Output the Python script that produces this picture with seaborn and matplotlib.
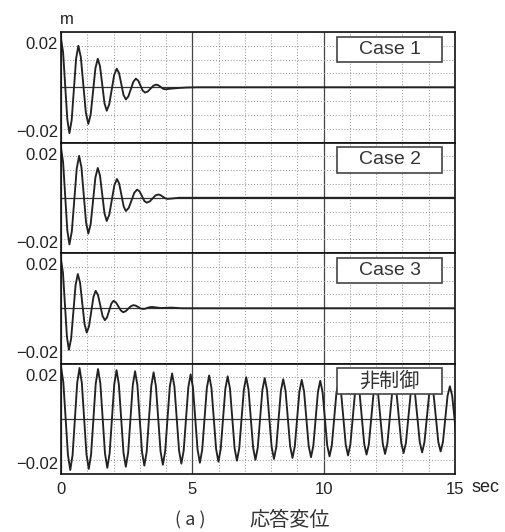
import numpy as np
import matplotlib.pyplot as plt
import seaborn as sns
from matplotlib.patches import Rectangle
from matplotlib.ticker import MultipleLocator

sns.set_theme(style='white')
plt.rcParams['font.family'] = ['Liberation Sans', 'Noto Sans CJK JP', 'DejaVu Sans']
plt.rcParams['axes.unicode_minus'] = True

# displacement readings in mm, times in sec
case1_t = [0.00, 0.08, 0.16, 0.24, 0.32, 0.405, 0.49, 0.575, 0.66, 0.755, 0.85, 0.945,
           1.04, 1.13, 1.22, 1.31, 1.40, 1.485, 1.57, 1.655, 1.74, 1.835, 1.93, 2.025,
           2.12, 2.21, 2.295, 2.38, 2.47, 2.565, 2.66, 2.755, 2.85, 2.94, 3.025, 3.11,
           3.20, 3.305, 3.41, 3.515, 3.62, 3.705, 3.79, 3.875, 3.96, 4.2, 4.5, 4.8, 5.2, 15.0]
case1_mm = [22.0, 15.7, 0.6, -14.5, -20.8, -15.0, -1.0, 13.0, 18.8, 13.6, 1.1, -11.4,
            -16.6, -12.3, -1.9, 8.6, 12.9, 9.5, 1.2, -7.2, -10.6, -7.8, -1.1, 5.6,
            8.4, 6.4, 1.5, -3.5, -5.5, -4.1, -0.8, 2.5, 3.9, 3.0, 0.8, -1.5,
            -2.4, -1.9, -0.6, 0.7, 1.2, 0.9, 0.2, -0.6, -0.9, -0.6, -0.3, -0.1, 0.0, 0.0]

case2_t = [0.00, 0.08, 0.16, 0.24, 0.32, 0.4125, 0.505, 0.5975, 0.69, 0.7775, 0.865, 0.9525,
           1.04, 1.13, 1.22, 1.31, 1.40, 1.485, 1.57, 1.655, 1.74, 1.8375, 1.935, 2.0325,
           2.13, 2.215, 2.30, 2.385, 2.47, 2.5775, 2.685, 2.7925, 2.90, 2.99, 3.08, 3.17,
           3.26, 3.37, 3.48, 3.59, 3.70, 3.7875, 3.875, 3.9625, 4.05, 4.25, 4.5, 15.0]
case2_mm = [22.5, 16.1, 0.7, -14.7, -21.1, -15.2, -1.1, 13.1, 19.0, 13.8, 1.4, -11.0,
            -16.2, -11.9, -1.4, 9.2, 13.5, 10.0, 1.5, -7.0, -10.5, -7.7, -1.0, 5.7,
            8.5, 6.4, 1.3, -3.9, -6.0, -4.6, -1.2, 2.3, 3.7, 2.9, 0.8, -1.4,
            -2.2, -1.7, -0.4, 1.0, 1.5, 1.2, 0.5, -0.2, -0.5, -0.3, 0.0, 0.0]

case3_t = [0.00, 0.075, 0.15, 0.225, 0.30, 0.385, 0.47, 0.555, 0.64, 0.725, 0.81, 0.895,
           0.98, 1.065, 1.15, 1.235, 1.32, 1.4075, 1.495, 1.5825, 1.67, 1.7525, 1.835, 1.9175,
           2.00, 2.0925, 2.185, 2.2775, 2.37, 2.465, 2.56, 2.655, 2.75, 2.8425, 2.935, 3.0275,
           3.12, 3.2075, 3.295, 3.3825, 3.47, 3.8, 4.2, 4.6, 15.0]
case3_mm = [22.0, 16.0, 1.6, -12.8, -18.8, -13.8, -1.7, 10.5, 15.5, 11.6, 2.3, -7.1,
            -11.0, -8.2, -1.6, 5.1, 7.9, 6.0, 1.3, -3.5, -5.4, -4.1, -1.0, 2.1,
            3.4, 2.6, 0.8, -1.0, -1.8, -1.3, -0.2, 0.9, 1.4, 1.2, 0.6, -0.1,
            -0.3, -0.2, 0.2, 0.5, 0.6, 0.1, 0.3, 0.0, 0.0]

# uncontrolled response, read every 0.088125 sec (1/8 of the 0.705 sec period)
free_dt = 0.088125
free_mm = [23.5, 16.6, 0,
           -16.4, -23.2, -16.4, 0, 16.2, 23.0, 16.2, 0, -16.1, -22.7, -16.1, 0,
           15.9, 22.5, 15.9, 0, -15.7, -22.2, -15.7, 0, 15.5, 22.0, 15.5, 0,
           -15.4, -21.7, -15.4, 0, 15.2, 21.5, 15.2, 0, -15.0, -21.2, -15.0, 0,
           14.8, 21.0, 14.8, 0, -14.7, -20.8, -14.7, 0, 14.5, 20.5, 14.5, 0,
           -14.4, -20.3, -14.4, 0, 14.2, 20.1, 14.2, 0, -14.0, -19.9, -14.0, 0,
           13.9, 19.6, 13.9, 0, -13.7, -19.4, -13.7, 0, 13.6, 19.2, 13.6, 0,
           -13.4, -19.0, -13.4, 0, 13.3, 18.8, 13.3, 0, -13.1, -18.6, -13.1, 0,
           13.0, 18.4, 13.0, 0, -12.8, -18.2, -12.8, 0, 12.7, 17.9, 12.7, 0,
           -12.5, -17.7, -12.5, 0, 12.4, 17.6, 12.4, 0, -12.3, -17.4, -12.3, 0,
           12.1, 17.2, 12.1, 0, -12.0, -17.0, -12.0, 0, 11.9, 16.8, 11.9, 0,
           -11.7, -16.6, -11.7, 0, 11.6, 16.4, 11.6, 0, -11.5, -16.2, -11.5, 0,
           11.3, 16.0, 11.3, 0, -11.2, -15.9, -11.2, 0, 11.1, 15.7, 11.1, 0,
           -11.0, -15.5, -11.0, 0, 10.8, 15.3, 10.8, 0, -10.7, -15.2, -10.7, 0,
           10.6, 15.0, 10.6, 0, -10.5, -14.8, -10.5, 0, 10.4, 14.7, 10.4, 0,
           -10.3, -14.5]
free_t = np.arange(len(free_mm)) * free_dt

panels = [
    (case1_t, case1_mm, 'Case 1'),
    (case2_t, case2_mm, 'Case 2'),
    (case3_t, case3_mm, 'Case 3'),
    (free_t, free_mm, '非制御'),
]

fig, axes = plt.subplots(4, 1, sharex=True, figsize=(5.05, 5.32), dpi=100)
fig.subplots_adjust(left=0.1208, right=0.901, top=0.9398, bottom=0.109, hspace=0)

line_col = '#222222'
for ax, (t, mm, name) in zip(axes, panels):
    sns.lineplot(x=np.asarray(t), y=np.asarray(mm) / 1000.0, ax=ax, color=line_col,
                 lw=1.35, estimator=None, sort=False)
    ax.set_xlim(0, 15)
    ax.set_ylim(-0.025, 0.025)
    ax.set_axisbelow(True)
    ax.xaxis.set_major_locator(MultipleLocator(5))
    ax.xaxis.set_minor_locator(MultipleLocator(1))
    ax.yaxis.set_minor_locator(MultipleLocator(0.00625))
    ax.set_yticks([-0.02, 0.02])
    ax.set_yticklabels(['\u22120.02', '0.02'])
    ax.xaxis.grid(True, which='major', color='#444444', lw=0.9, ls='-')
    ax.xaxis.grid(True, which='minor', color='#8f8f8f', lw=0.7, ls=(0, (1, 2)))
    ax.yaxis.grid(True, which='minor', color='#8f8f8f', lw=0.7, ls=(0, (1, 2)))
    ax.yaxis.grid(False, which='major')
    ax.axhline(0, color='#333333', lw=0.9, zorder=1)
    ax.tick_params(which='both', length=0, labelsize=12, colors='#222222')
    ax.tick_params(axis='y', pad=2)
    ax.tick_params(axis='x', pad=6)
    ax.set_xlabel('')
    ax.set_ylabel('')
    for sp in ax.spines.values():
        sp.set_color('#111111')
        sp.set_linewidth(1.2)

    ax.add_patch(Rectangle((0.7005, 0.7285), 0.2665, 0.2265, transform=ax.transAxes,
                           facecolor='white', edgecolor='#444444', lw=1.2, zorder=5))
    if name == '非制御':
        ax.text(0.834, 0.842, name, transform=ax.transAxes, ha='center', va='center',
                fontsize=14.5, color='#333333', family=['Noto Sans CJK JP'], zorder=6)
    else:
        ax.text(0.834, 0.842, name, transform=ax.transAxes, ha='center', va='center',
                fontsize=14, color='#333333', family=['Liberation Sans'], zorder=6)

axes[-1].set_xticks([0, 5, 10, 15])
axes[-1].set_xticklabels(['0', '5', '10', '15'])
axes[-1].annotate('sec', xy=(1, 0), xycoords='axes fraction', xytext=(12, -10),
                  textcoords='offset points', ha='left', va='center',
                  fontsize=13, color='#222222')

fig.text(60 / 505, 1 - 19 / 532, 'm', ha='left', va='center', fontsize=12, color='#222222')
fig.text(190 / 505, 1 - 520 / 532, '( a )', ha='center', va='center', fontsize=13,
         color='#333333', family=['Noto Sans CJK JP'])
fig.text(290 / 505, 1 - 520 / 532, '応答変位', ha='center', va='center', fontsize=14.5,
         color='#333333', family=['Noto Sans CJK JP'])

fig.savefig('out.png', dpi=100)
